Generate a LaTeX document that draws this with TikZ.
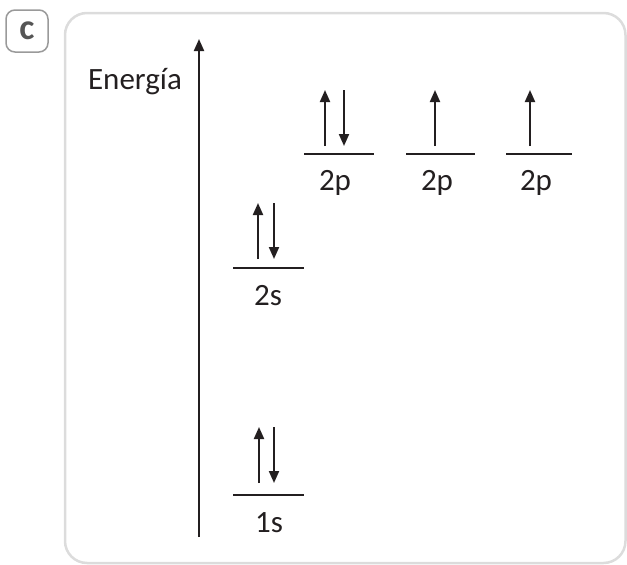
\documentclass[tikz,border=0pt]{standalone}
\usepackage{fontspec}
\setmainfont{Carlito}
\usetikzlibrary{arrows.meta}
\definecolor{ink}{HTML}{231F20}
\definecolor{frame}{HTML}{DCDCDC}
\definecolor{tagline}{HTML}{9A9A9A}
\definecolor{tagtext}{HTML}{555555}
\tikzset{
  level/.style={ink, line width=2.2pt},
  spin/.style={ink, line width=2pt, -{Triangle[length=12pt,width=10pt]}},
  lbl/.style={ink, anchor=base, inner sep=0pt, font=\fontsize{31}{37}\selectfont},
  tag/.style={draw=tagline, line width=1.5pt, rounded corners=9pt, minimum size=42pt,
    inner sep=0pt, text=tagtext, font=\fontsize{36}{40}\selectfont\bfseries}
}
\begin{document}
\begin{tikzpicture}[x=1pt, y=-1pt]
  \useasboundingbox (0,0) rectangle (627,565);
  % Panel frame and tag
  \draw[frame, line width=2.5pt, rounded corners=22pt] (65,13) rectangle (625.5,563);
  \node[tag] (tag) at (27,31) {c};
  % Energy axis
  \coordinate (axbot) at (199,537);
  \coordinate (axtop) at (199,39);
  \draw[spin] (axbot) -- (axtop);
  \node[lbl] (energia) at (135,89) {Energía};
  % Levels
  \coordinate (s1l) at (233,495);  \coordinate (s1r) at (304,495);
  \coordinate (s2l) at (233,268);  \coordinate (s2r) at (304,268);
  \coordinate (pal) at (304,154);  \coordinate (par) at (374,154);
  \coordinate (pbl) at (406,154);  \coordinate (pbr) at (475,154);
  \coordinate (pcl) at (506,154);  \coordinate (pcr) at (572,154);
  \draw[level] (s1l) -- (s1r);
  \draw[level] (s2l) -- (s2r);
  \draw[level] (pal) -- (par);
  \draw[level] (pbl) -- (pbr);
  \draw[level] (pcl) -- (pcr);
  \node[lbl] (s1lbl) at (269,532) {1s};
  \node[lbl] (s2lbl) at (268,305) {2s};
  \node[lbl] (palbl) at (335,190) {2p};
  \node[lbl] (pblbl) at (437,190) {2p};
  \node[lbl] (pclbl) at (536,190) {2p};
  % Electrons
  \coordinate (e1a) at (259,483);  \coordinate (e1b) at (259,427);
  \coordinate (e2a) at (274,427);  \coordinate (e2b) at (274,483);
  \coordinate (e3a) at (258,259);  \coordinate (e3b) at (258,203);
  \coordinate (e4a) at (274,203);  \coordinate (e4b) at (274,259);
  \coordinate (e5a) at (325,146);  \coordinate (e5b) at (325,90);
  \coordinate (e6a) at (344,90);   \coordinate (e6b) at (344,146);
  \coordinate (e7a) at (435,146);  \coordinate (e7b) at (435,90);
  \coordinate (e8a) at (530,146);  \coordinate (e8b) at (530,90);
  \draw[spin] (e1a) -- (e1b);
  \draw[spin] (e2a) -- (e2b);
  \draw[spin] (e3a) -- (e3b);
  \draw[spin] (e4a) -- (e4b);
  \draw[spin] (e5a) -- (e5b);
  \draw[spin] (e6a) -- (e6b);
  \draw[spin] (e7a) -- (e7b);
  \draw[spin] (e8a) -- (e8b);
\end{tikzpicture}
\end{document}
